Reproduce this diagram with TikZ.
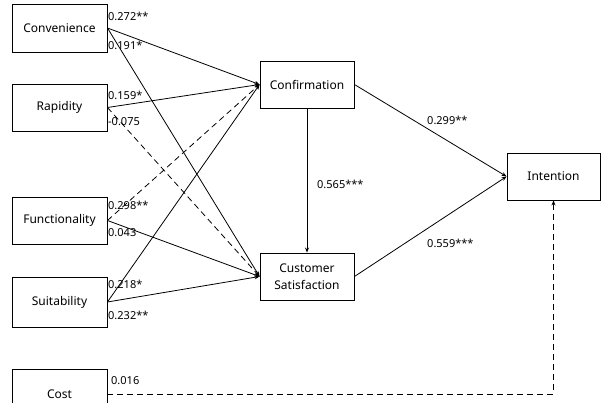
\documentclass[tikz,border=0pt]{standalone}
\usepackage{fontspec}
\setmainfont{Noto Sans}
\usetikzlibrary{arrows.meta}
\begin{document}
\begin{tikzpicture}[x=1pt,y=-1pt,
  box/.style={draw,line width=0.9pt,minimum width=95pt,inner sep=0pt,align=center,font=\fontsize{12}{17}\selectfont},
  lbl/.style={anchor=west,inner sep=0pt,font=\fontsize{11}{13}\selectfont},
  link/.style={line width=0.8pt,-{Stealth[length=5pt,width=4pt]}},
  dlink/.style={link,dash pattern=on 6pt off 4pt}]
\useasboundingbox (0,0) rectangle (601,403);
\clip (0,0) rectangle (601,403);
\fill[white] (0,0) rectangle (601,403);
% constructs
\node[box,minimum height=48pt] (conv) at (59.5,28) {Convenience};
\node[box,minimum height=47pt] (rapi) at (59.5,107.5) {Rapidity};
\node[box,minimum height=47pt] (func) at (59.5,220.5) {Functionality};
\node[box,minimum height=50pt] (suit) at (59.5,302) {Suitability};
\node[box,minimum height=50pt] (cost) at (59.5,394) {Cost};
\node[box,minimum width=94pt,minimum height=47pt] (conf) at (307,84.5) {Confirmation};
\node[box,minimum width=94pt,minimum height=47pt] (csat) at (307,276.5) {Customer\\Satisfaction};
\node[box,minimum width=93pt,minimum height=47pt] (inte) at (553.5,176.5) {Intention};
% paths to confirmation and satisfaction
\draw[link] (conv.east) -- (conf.west);
\draw[link] (conv.east) -- (csat.west);
\draw[link] (rapi.east) -- (conf.west);
\draw[dlink] (rapi.east) -- (csat.west);
\draw[dlink] (func.east) -- (conf.west);
\draw[link] (func.east) -- (csat.west);
\draw[link] (suit.east) -- (conf.west);
\draw[link] (suit.east) -- (csat.west);
% paths to intention
\draw[link] (conf.south) -- (csat.north);
\draw[link] (conf.east) -- (inte.west);
\draw[link] (csat.east) -- (inte.west);
\coordinate (bend) at (inte.south |- cost.east);
\draw[dlink] (cost.east) -- (bend) -- (inte.south);
% coefficients
\node[lbl] (l1) at (108,16) {0.272**};
\node[lbl] (l2) at (108,45) {0.191*};
\node[lbl] (l3) at (108,95) {0.159*};
\node[lbl] (l4) at (108,122) {-0.075};
\node[lbl] (l5) at (108,205) {0.298**};
\node[lbl] (l6) at (108,233) {0.043};
\node[lbl] (l7) at (108,284) {0.218*};
\node[lbl] (l8) at (108,315) {0.232**};
\node[lbl] (l9) at (111,381) {0.016};
\node[lbl] (l10) at (317,184) {0.565***};
\node[lbl] (l11) at (427,120) {0.299**};
\node[lbl] (l12) at (427,243) {0.559***};
\end{tikzpicture}
\end{document}
